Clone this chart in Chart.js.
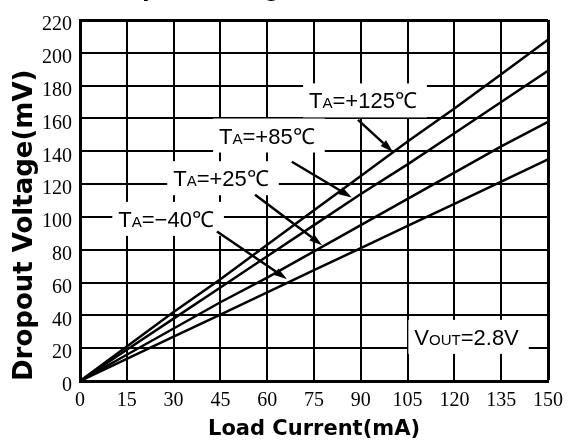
<!DOCTYPE html>
<html lang="en">
<head>
<meta charset="UTF-8">
<title>Dropout Voltage vs. Load Current</title>
<style>
  html, body { margin: 0; padding: 0; background: #fff; }
  #wrap { width: 574px; height: 443px; position: relative; }
</style>
</head>
<body>
<div id="wrap"><canvas id="dropChart"></canvas></div>
<script src="https://cdn.jsdelivr.net/npm/chart.js"></script>
<script>
// load current (mA)
const loadCurrent = [0, 15, 30, 45, 60, 75, 90, 105, 120, 135, 150];
// dropout voltage (mV)
const drop125 = [0, 21, 42, 62, 83, 104, 125, 146, 166, 187, 208];
const drop85  = [0, 19, 38, 57, 76, 95, 114, 132, 151, 170, 189];
const drop25  = [0, 16, 32, 48, 63, 79, 95, 111, 127, 143, 158];
const dropM40 = [0, 13.5, 27, 40.5, 54, 67.5, 81, 94.5, 108, 121.5, 135];

const yMax = 220, yStep = 20;
const xMax = 150, xStep = 15;

// labels on the plot: [main, sub, rest], centre in data units, arrow from -> to
const notes = [
  { parts: ['T', 'A', '=+125\u2103'], at: [90.7, 171], arrow: [[89.1, 159.1], [100.3, 139.6]] },
  { parts: ['T', 'A', '=+85\u2103'],  at: [59.9, 149.6], arrow: [[67.9, 133.6], [87.1, 111.9]] },
  { parts: ['T', 'A', '=+25\u2103'],  at: [45.2, 123.6], arrow: [[56.1, 113.5], [77.6, 82.8]] },
  { parts: ['T', 'A', '=\u221240\u2103'], at: [27.6, 98.8], arrow: [[43.9, 91.1], [66.3, 62.1]] },
  { parts: ['V', 'OUT', '=2.8V'], at: [123.9, 26.9], arrow: null }
];

function toXY(data) {
  return loadCurrent.map((c, i) => ({ x: c, y: data[i] }));
}

const bigFont = '22px "Liberation Sans", Arial, sans-serif';
const smallFont = '15px "Liberation Sans", Arial, sans-serif';

const notesPlugin = {
  id: 'notes',
  afterDatasetsDraw(chart) {
    const c = chart.ctx, xs = chart.scales.x, ys = chart.scales.y;
    c.save();
    c.textBaseline = 'alphabetic';
    notes.forEach(n => {
      c.font = bigFont;
      const w1 = c.measureText(n.parts[0]).width;
      const w3 = c.measureText(n.parts[2]).width;
      c.font = smallFont;
      const w2 = c.measureText(n.parts[1]).width;
      const w = w1 + w2 + w3;
      const cx = xs.getPixelForValue(n.at[0]);
      const cy = ys.getPixelForValue(n.at[1]);
      const left = cx - w / 2;
      c.fillStyle = '#fff';
      c.fillRect(left - 6, cy - 17, w + 16, 34);
      c.fillStyle = '#000';
      const base = cy + 8;
      c.font = bigFont;
      c.fillText(n.parts[0], left, base);
      c.font = smallFont;
      c.fillText(n.parts[1], left + w1, base);
      c.font = bigFont;
      c.fillText(n.parts[2], left + w1 + w2, base);

      if (n.arrow) {
        const x0 = xs.getPixelForValue(n.arrow[0][0]), y0 = ys.getPixelForValue(n.arrow[0][1]);
        const x1 = xs.getPixelForValue(n.arrow[1][0]), y1 = ys.getPixelForValue(n.arrow[1][1]);
        const ang = Math.atan2(y1 - y0, x1 - x0);
        const hl = 13, hw = 4;
        const bx = x1 - hl * Math.cos(ang), by = y1 - hl * Math.sin(ang);
        c.strokeStyle = '#000';
        c.lineWidth = 2.5;
        c.beginPath();
        c.moveTo(x0, y0);
        c.lineTo(bx, by);
        c.stroke();
        c.beginPath();
        c.moveTo(x1, y1);
        c.lineTo(bx + hw * Math.sin(ang), by - hw * Math.cos(ang));
        c.lineTo(bx - hw * Math.sin(ang), by + hw * Math.cos(ang));
        c.closePath();
        c.fill();
      }
    });
    // title, almost all of it above the top edge of the picture
    c.font = 'bold 21px "DejaVu Sans", sans-serif';
    c.fillText('Dropout Voltage vs. Load Current', 100, -3);
    c.restore();
  }
};

const lineDs = (data) => ({
  data: toXY(data),
  borderColor: '#000',
  borderWidth: 2.5,
  pointRadius: 0,
  fill: false,
  tension: 0
});

const tickFont = { family: '"Liberation Serif", "Times New Roman", serif', size: 20 };
const titleFont = { family: '"DejaVu Sans", sans-serif', weight: 'bold' };

new Chart(document.getElementById('dropChart'), {
  type: 'line',
  data: {
    datasets: [lineDs(drop125), lineDs(drop85), lineDs(drop25), lineDs(dropM40)]
  },
  options: {
    responsive: true,
    maintainAspectRatio: false,
    animation: false,
    layout: { padding: { left: 0, right: 26, top: 8.5, bottom: 0 } },
    plugins: { legend: { display: false }, tooltip: { enabled: false } },
    scales: {
      x: {
        type: 'linear', min: 0, max: xMax,
        afterFit(s) { s.height = 62; },
        ticks: { stepSize: xStep, font: tickFont, color: '#000', padding: 8, maxRotation: 0 },
        grid: {
          color: '#000', drawTicks: false,
          lineWidth: ctx => (ctx.tick && ctx.tick.value === xMax ? 3 : 2)
        },
        border: { color: '#000', width: 3 },
        title: { display: true, text: 'Load Current(mA)', color: '#000', font: { ...titleFont, size: 21 }, padding: { top: 0, bottom: 1 } }
      },
      y: {
        type: 'linear', min: 0, max: yMax,
        afterFit(s) { s.width = 80; },
        ticks: { stepSize: yStep, font: tickFont, color: '#000', padding: 8, labelOffset: 5 },
        grid: {
          color: '#000', drawTicks: false,
          lineWidth: ctx => (ctx.tick && ctx.tick.value === yMax ? 3 : 2)
        },
        border: { color: '#000', width: 3 },
        title: { display: true, text: 'Dropout Voltage(mV)', align: 'start', color: '#000', font: { ...titleFont, size: 26 }, padding: { top: 10, bottom: 0 } }
      }
    }
  },
  plugins: [notesPlugin]
});
</script>
</body>
</html>
